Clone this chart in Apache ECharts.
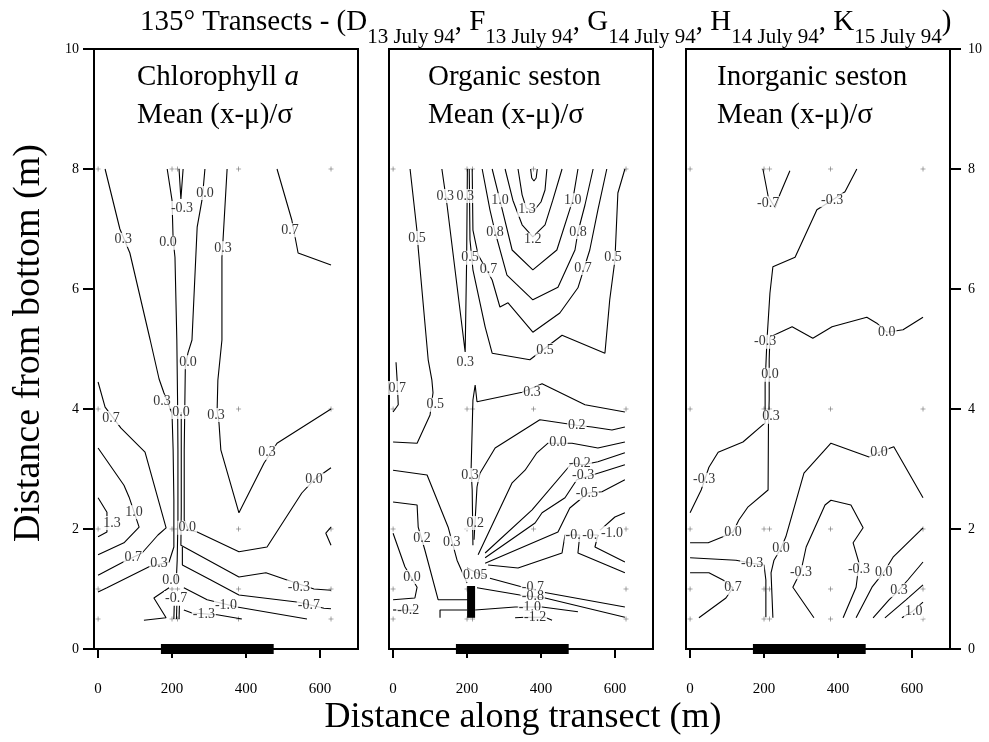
<!DOCTYPE html>
<html><head><meta charset="utf-8">
<script src="https://cdn.jsdelivr.net/npm/echarts@6/dist/echarts.min.js"></script>
<style>html,body{margin:0;padding:0;background:#fff}#c{width:989px;height:742px}</style>
</head><body><div id="c"></div>
<script>
// ---------- axes ----------
const xTicks = [0, 200, 400, 600];
const yTicks = [0, 2, 4, 6, 8, 10];
const sampleX = [0, 200, 215, 380, 630];
const sampleY = [0.5, 1, 2, 4, 8];
const stationBar = [170, 475];

// ---------- Panel 1 : Chlorophyll a ----------
const chl_p03_left = [[19,8.0],[59,7.0],[86,6.6],[141,5.15],[165,4.5],[178,4.27],[200,3.93],[203,3.32],[205,2.48],[205,1.7],[192,1.45],[138,1.37],[24,1.02],[0,0.95]];
const chl_p00_left = [[187,8.0],[200,7.48],[203,6.82],[208,6.53],[213,5.15],[215,4.15],[216,3.32],[216,2.15],[214,1.48],[211,1.07]];
const chl_m03_top = [[219,8.0],[224,7.5],[230,8.0]];
const chl_p00_mid = [[289,8.0],[284,7.65],[281,7.48],[268,7.03],[254,5.15],[243,4.93],[236,4.7],[233,3.32],[233,2.15],[245,1.98],[268,1.95],[381,1.62],[457,1.7],[551,2.6],[584,2.82],[630,3.02]];
const chl_m03_low = [[225,3.95],[225,2.3],[224,1.73],[381,1.2],[454,1.27],[511,1.15],[584,1.0],[630,0.98]];
const chl_m07_low = [[228,1.7],[228,1.4],[305,1.15],[381,0.9],[543,0.78],[611,0.68],[630,0.67]];
const chl_m10_low = [[232,1.02],[295,0.82],[376,0.7],[565,0.5]];
const chl_m13_low = [[232,0.65],[254,0.6],[322,0.57],[389,0.5]];
const chl_m07_left = [[192,1.02],[151,0.85],[184,0.52],[124,0.48]];
const chl_p03_right = [[349,8.0],[338,6.82],[335,6.53],[335,5.15],[324,4.48],[322,3.98],[327,3.77],[332,3.32],[381,2.27],[449,3.1],[484,3.43],[630,4.0]];
const chl_p07_right = [[484,8.0],[524,7.15],[541,6.6],[630,6.4]];
const chl_p07_left = [[0,4.45],[19,4.03],[62,3.68],[127,3.28],[184,2.02],[162,1.9],[119,1.6],[68,1.45],[0,1.23]];
const chl_p10 = [[0,3.35],[70,2.73],[84,2.53],[111,2.03],[70,1.77],[0,1.57]];
const chl_p13 = [[0,2.52],[24,2.28],[24,1.95],[0,1.87]];
const chl_small = [[630,2.03],[616,1.93],[630,1.73]];
const chl_dense1 = [[205,0.5],[206,0.72]];
const chl_dense2 = [[212,0.5],[213,0.72]];
const chl_dense3 = [[219,0.5],[220,0.72]];
const chl_labels = [
 [68,6.82,'0.3'],[173,4.12,'0.3'],[165,1.43,'0.3'],
 [189,6.77,'0.0'],[224,3.95,'0.0'],[227,7.35,'-0.3'],
 [289,7.6,'0.0'],[243,4.78,'0.0'],[241,2.02,'0.0'],[584,2.82,'0.0'],
 [338,6.68,'0.3'],[319,3.9,'0.3'],[457,3.27,'0.3'],[519,6.98,'0.7'],
 [35,3.85,'0.7'],[95,1.52,'0.7'],[97,2.28,'1.0'],[38,2.1,'1.3'],
 [543,1.03,'-0.3'],[570,0.72,'-0.7'],[346,0.72,'-1.0'],[286,0.57,'-1.3'],
 [211,0.85,'-0.7'],[197,1.15,'0.0']
];

// ---------- Panel 2 : Organic seston ----------
const org_p05_left = [[46,8.0],[65,6.95],[68,6.68],[95,4.82],[105,4.48],[108,4.27],[100,3.9],[65,3.43],[0,3.45]];
const org_p03_v = [[132,8.0],[146,7.4],[195,4.95],[199,6.5],[201,8.0]];
const org_p05_mid = [[206,8.0],[208,6.82],[216,6.32],[249,5.37],[268,4.93],[370,4.82],[457,5.23],[573,4.93],[586,5.82],[600,6.48],[608,7.6],[627,8.0]];
const org_p07 = [[214,8.0],[216,6.98],[230,6.57],[268,6.15],[289,5.7],[311,5.77],[378,5.28],[451,5.6],[500,6.02],[532,6.65],[554,7.32],[578,8.0]];
const org_p08 = [[241,8.0],[262,7.32],[276,6.95],[308,6.23],[378,5.82],[446,6.03],[492,6.65],[500,6.95],[519,7.4],[541,8.0]];
const org_p10 = [[268,8.0],[289,7.48],[322,6.65],[378,6.32],[443,6.65],[486,7.48],[500,8.0]];
const org_p12 = [[303,8.0],[324,7.48],[349,7.07],[378,6.87],[411,7.07],[432,7.48],[457,8.0]];
const org_p13 = [[338,8.0],[349,7.57],[360,7.35],[380,7.3],[400,7.45],[411,7.65],[416,8.0]];
const org_p14 = [[372,8.0],[375,7.85],[381,7.8],[387,7.85],[390,8.0]];
const org_p07_edge = [[8,4.78],[11,4.48],[14,4.07],[0,3.95]];
const org_p03_up = [[627,3.95],[519,4.07],[403,4.42],[349,4.28],[227,4.12],[222,4.4],[216,4.15],[211,2.98],[214,2.65],[216,1.73]];
const org_p02_up = [[219,1.82],[227,2.7],[235,2.93],[276,3.35],[397,3.82],[497,3.73],[538,3.7],[592,3.65],[627,3.7]];
const org_p00_up = [[230,1.57],[322,2.77],[357,2.98],[389,3.27],[419,3.43],[484,3.43],[554,3.35],[627,3.45]];
const org_m02_up = [[249,1.6],[376,2.32],[484,3.1],[514,3.07],[554,3.12],[627,3.27]];
const org_m03_up = [[249,1.52],[384,2.1],[403,2.27],[465,2.52],[497,2.82],[565,2.95],[627,3.07]];
const org_m05_up = [[249,1.43],[446,1.95],[478,2.35],[527,2.6],[565,2.62],[627,2.82]];
const org_m07_mid = [[257,1.4],[338,1.35],[457,1.6],[465,1.9],[487,1.9],[505,1.9],[500,1.6],[627,1.27]];
const org_m08_mid = [[532,1.9],[554,1.9],[546,1.7],[627,1.45]];
const org_m10_mid = [[627,2.27],[600,2.2],[560,1.98]];
const org_p005 = [[200,1.35],[249,1.2]];
const org_m07_low = [[262,1.18],[357,1.02],[403,0.95],[627,0.7]];
const org_m08_low = [[227,1.02],[343,0.9],[411,0.85],[627,0.53]];
const org_m10_low = [[222,0.65],[330,0.7],[403,0.7],[500,0.62]];
const org_m12_low = [[330,0.52],[357,0.53],[411,0.53],[430,0.48]];
const org_p03_low = [[0,2.98],[92,2.9],[149,2.03],[173,1.48],[200,1.1]];
const org_p02_low = [[0,2.45],[65,2.4],[68,2.03],[86,1.65],[122,0.82],[203,0.82]];
const org_p00_low = [[0,1.93],[32,1.37],[65,1.03],[59,0.85],[0,0.82]];
const org_m02_low_a = [[0,0.65],[65,0.65]];
const org_m02_low_b = [[127,0.52],[127,0.65],[200,0.65]];
const org_dense = [[211,0.52],[211,1.05]];
const org_labels = [
 [65,6.85,'0.5'],[114,4.07,'0.5'],
 [141,7.55,'0.3'],[195,7.55,'0.3'],[195,4.77,'0.3'],
 [208,6.52,'0.5'],[411,4.98,'0.5'],[595,6.52,'0.5'],
 [258,6.32,'0.7'],[514,6.35,'0.7'],[276,6.95,'0.8'],[500,6.95,'0.8'],
 [289,7.48,'1.0'],[486,7.48,'1.0'],[378,6.82,'1.2'],[362,7.32,'1.3'],
 [11,4.35,'0.7'],[376,4.28,'0.3'],[208,2.9,'0.3'],
 [497,3.73,'0.2'],[222,2.1,'0.2'],[446,3.45,'0.0'],
 [505,3.1,'-0.2'],[514,2.9,'-0.3'],[524,2.6,'-0.5'],
 [487,1.9,'-0.'],[532,1.9,'-0.'],[592,1.93,'-1.0'],
 [222,1.23,'0.05'],
 [378,1.02,'-0.7'],[378,0.87,'-0.8'],[370,0.7,'-1.0'],[384,0.53,'-1.2'],
 [159,1.77,'0.3'],[78,1.85,'0.2'],[51,1.2,'0.0'],[41,0.65,'-0.2']
];

// ---------- Panel 3 : Inorganic seston ----------
const ino_m07 = [[197,8.0],[211,7.55],[230,7.35],[243,7.58],[270,7.97]];
const ino_m03 = [[451,8.0],[419,7.62],[384,7.48],[343,7.32],[284,6.53],[224,6.37],[216,5.93],[208,5.15],[203,4.43],[203,3.77],[143,3.45],[76,3.28],[51,3.03],[30,2.65],[0,2.27]];
const ino_p00 = [[630,5.53],[576,5.32],[532,5.28],[505,5.43],[478,5.53],[384,5.37],[332,5.18],[276,5.37],[216,5.2],[214,4.82],[214,4.15],[212,3.73],[211,2.65],[157,2.37],[132,2.15],[116,1.95],[89,1.87],[49,1.77],[0,1.77]];
const ino_p00_dome = [[224,0.52],[219,1.27],[227,1.48],[246,1.68],[259,1.87],[308,2.93],[381,3.43],[484,3.2],[511,3.28],[551,3.37],[630,2.52]];
const ino_m03_u = [[335,0.52],[278,1.03],[300,1.3],[314,1.7],[365,2.4],[381,2.48],[435,2.4],[468,2.02],[441,1.77],[457,1.43],[449,1.03],[414,0.52]];
const ino_p00_r = [[630,2.02],[549,1.53],[524,1.28],[492,1.03],[449,0.52]];
const ino_p03_r = [[630,1.45],[589,1.15],[565,0.98],[538,0.82],[495,0.52]];
const ino_p07_r = [[630,1.07],[584,0.82],[527,0.52]];
const ino_p10_r = [[630,0.78],[600,0.62],[573,0.52]];
const ino_m03_l = [[0,1.52],[124,1.48],[168,1.43],[200,1.4],[205,1.15],[205,0.53]];
const ino_p07_l = [[0,1.27],[51,1.27],[89,1.15],[116,1.02],[97,0.85],[24,0.52]];
const ino_labels = [
 [211,7.43,'-0.7'],[384,7.48,'-0.3'],[203,5.12,'-0.3'],[38,2.82,'-0.3'],
 [532,5.28,'0.0'],[216,4.57,'0.0'],[219,3.87,'0.3'],[116,1.95,'0.0'],
 [246,1.68,'0.0'],[511,3.28,'0.0'],[300,1.28,'-0.3'],[457,1.33,'-0.3'],
 [524,1.28,'0.0'],[565,0.98,'0.3'],[605,0.62,'1.0'],
 [168,1.43,'-0.3'],[116,1.02,'0.7']
];

// ---------- assembly ----------
const FONT = '"Liberation Serif", "Times New Roman", serif';
const panels = [
  {left:94, lines:[chl_p03_left,chl_p00_left,chl_m03_top,chl_p00_mid,chl_m03_low,chl_m07_low,chl_m10_low,chl_m13_low,chl_m07_left,chl_p03_right,chl_p07_right,chl_p07_left,chl_p10,chl_p13,chl_small,chl_dense1,chl_dense2,chl_dense3], dense:[], labels:chl_labels},
  {left:389, lines:[org_p05_left,org_p03_v,org_p05_mid,org_p07,org_p08,org_p10,org_p12,org_p13,org_p14,org_p07_edge,org_p03_up,org_p02_up,org_p00_up,org_m02_up,org_m03_up,org_m05_up,org_m07_mid,org_m08_mid,org_m10_mid,org_p005,org_m07_low,org_m08_low,org_m10_low,org_m12_low,org_p03_low,org_p02_low,org_p00_low,org_m02_low_a,org_m02_low_b], dense:[org_dense], labels:org_labels},
  {left:686, lines:[ino_m07,ino_m03,ino_p00,ino_p00_dome,ino_m03_u,ino_p00_r,ino_p03_r,ino_p07_r,ino_p10_r,ino_m03_l,ino_p07_l], dense:[], labels:ino_labels}
];

const grids=[], xAxes=[], yAxes=[], series=[];
const markerPts=[];
sampleY.forEach(y=>sampleX.forEach(x=>markerPts.push([x,y])));

panels.forEach((p,i)=>{
  grids.push({left:p.left, top:49, width:264, height:600, show:true, borderColor:'#000', borderWidth:2, backgroundColor:'transparent'});
  xAxes.push({gridIndex:i, type:'value', min:-11, max:703,
    axisLine:{show:true, onZero:false, lineStyle:{color:'#000', width:2}},
    axisTick:{show:true, customValues:xTicks, length:9, lineStyle:{color:'#000', width:2}},
    axisLabel:{show:true, customValues:xTicks, margin:33, color:'#000', fontFamily:FONT, fontSize:15},
    splitLine:{show:false}});
  const ya = {gridIndex:i, type:'value', min:0, max:10, interval:2,
    axisLine:{show:true, onZero:false, lineStyle:{color:'#000', width:2}},
    axisTick:{show:i!==1, length:11, lineStyle:{color:'#000', width:2}},
    axisLabel:{show:i!==1, margin:15, color:'#000', fontFamily:FONT, fontSize:14},
    splitLine:{show:false}};
  if(i===2){ ya.position='right'; ya.axisLabel.margin=18; }
  yAxes.push(ya);
  p.lines.forEach(l=>series.push({type:'line', xAxisIndex:i, yAxisIndex:i, data:l, symbol:'none', silent:true, animation:false, clip:false, lineStyle:{color:'#000', width:1.1}, z:2}));
  p.dense.forEach(l=>series.push({type:'line', xAxisIndex:i, yAxisIndex:i, data:l, symbol:'none', silent:true, animation:false, lineStyle:{color:'#000', width:8, cap:'butt'}, z:3}));
  series.push({type:'scatter', xAxisIndex:i, yAxisIndex:i, data:markerPts, silent:true, animation:false,
    symbol:'path://M4,0h1v4h4v1h-4v4h-1v-4h-4v-1h4z', symbolSize:5, itemStyle:{color:'#333'}, z:1});
  series.push({type:'scatter', xAxisIndex:i, yAxisIndex:i, silent:true, animation:false,
    data:p.labels.map(d=>({value:[d[0],d[1]], name:d[2]})), symbolSize:1, itemStyle:{color:'transparent'},
    label:{show:true, position:'inside', formatter:'{b}', color:'#000', fontFamily:FONT, fontSize:14, backgroundColor:'#fff', padding:[0,1]}, z:5});
  series.push({type:'line', xAxisIndex:i, yAxisIndex:i, data:stationBar.map(x=>[x,0]), symbol:'none', silent:true, animation:false, clip:false,
    lineStyle:{color:'#000', width:10, cap:'butt'}, z:6});
});

const sub = s => '{s|' + s + '}';
const titleText = '{a|135° Transects - (D}' + sub('13 July 94') + '{a|, F}' + sub('13 July 94') + '{a|, G}' + sub('14 July 94') + '{a|, H}' + sub('14 July 94') + '{a|, K}' + sub('15 July 94') + '{a|)}';

const headings = [
  {x:137, l1:'Chlorophyll {i|a}'},
  {x:428, l1:'Organic seston'},
  {x:717, l1:'Inorganic seston'}
];
const graphics = [
  {type:'text', x:140, y:8, style:{text:titleText, rich:{
    a:{fontFamily:FONT, fontSize:29, verticalAlign:'top', lineHeight:40, fill:'#000'},
    s:{fontFamily:FONT, fontSize:21, verticalAlign:'bottom', lineHeight:40, fill:'#000'}}}},
  {type:'text', x:523, y:718, style:{text:'Distance along transect (m)', fontFamily:FONT, fontSize:36, align:'center', verticalAlign:'middle', fill:'#000'}},
  {type:'text', x:29, y:343, rotation:Math.PI/2, style:{text:'Distance from bottom (m)', fontFamily:FONT, fontSize:38, align:'center', verticalAlign:'middle', fill:'#000'}}
];
headings.forEach(h=>{
  graphics.push({type:'text', x:h.x, y:77, style:{text:h.l1, fontFamily:FONT, fontSize:29, verticalAlign:'middle', fill:'#000',
    rich:{i:{fontFamily:FONT, fontSize:29, fontStyle:'italic', fill:'#000'}}}});
  graphics.push({type:'text', x:h.x, y:115, style:{text:'Mean (x-μ)/σ', fontFamily:FONT, fontSize:29, verticalAlign:'middle', fill:'#000'}});
});

const chart = echarts.init(document.getElementById('c'));
chart.setOption({
  animation:false, backgroundColor:'#fff',
  grid:grids, xAxis:xAxes, yAxis:yAxes, series:series, graphic:graphics
});
</script>
</body></html>
